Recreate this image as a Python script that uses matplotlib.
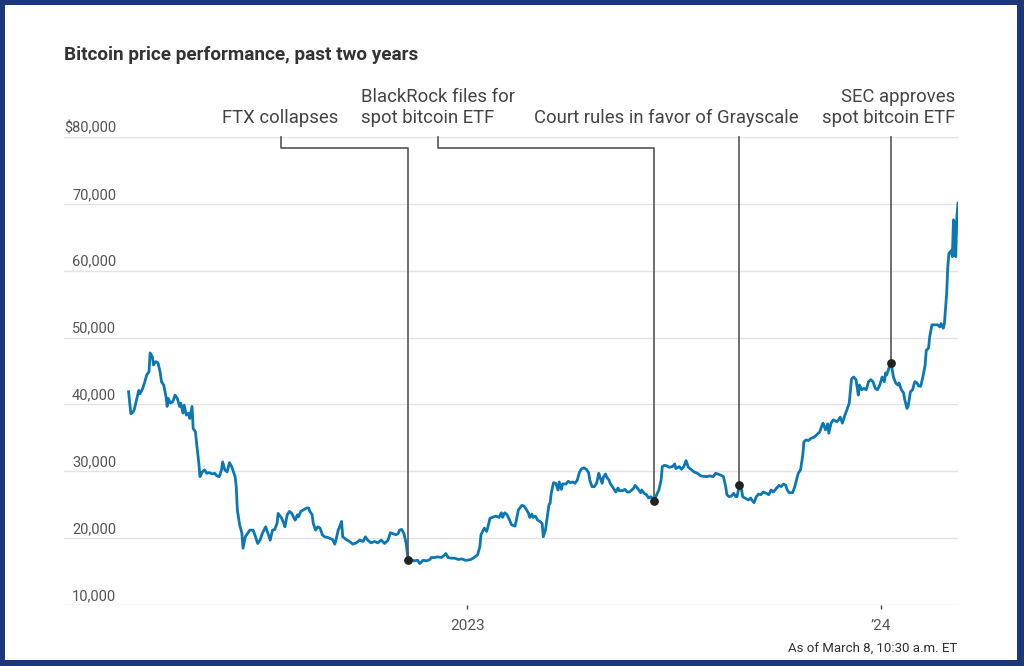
import numpy as np
import matplotlib
matplotlib.use("Agg")
import matplotlib.pyplot as plt
import matplotlib.dates as mdates
from matplotlib.patches import Rectangle

plt.rcParams['font.family'] = ['Roboto', 'DejaVu Sans']

# bitcoin closing price, days counted from the start date
start_date = np.datetime64('2022-03-07')
days = [1, 3, 5, 6, 8, 10, 11, 13, 15, 17, 19, 20, 22, 23, 25, 27, 29, 30, 32, 34,
        35, 36, 38, 40, 42, 44, 46, 47, 49, 50, 52, 54, 55, 57, 58, 60, 61, 63, 64, 66,
        68, 70, 72, 75, 77, 79, 81, 83, 84, 86, 88, 90, 92, 95, 96, 97, 99, 101, 102, 104,
        106, 108, 111, 113, 115, 117, 119, 122, 124, 126, 128, 130, 132, 133, 136, 138, 139, 141, 143, 145,
        147, 148, 150, 151, 153, 155, 158, 160, 161, 163, 164, 166, 168, 170, 172, 174, 177, 178, 181, 183,
        184, 186, 187, 189, 190, 193, 196, 199, 202, 205, 208, 210, 212, 215, 218, 221, 224, 227, 230, 232,
        234, 237, 239, 240, 242, 244, 246, 247, 248, 250, 253, 256, 258, 261, 264, 267, 268, 271, 274, 277,
        280, 281, 283, 286, 289, 292, 295, 298, 300, 303, 306, 309, 311, 312, 314, 315, 317, 318, 320, 322,
        325, 328, 330, 331, 333, 335, 337, 339, 342, 343, 345, 348, 350, 352, 354, 355, 357, 358, 360, 362,
        364, 366, 367, 369, 370, 372, 373, 374, 376, 378, 380, 381, 383, 384, 387, 389, 391, 393, 395, 397,
        399, 401, 403, 405, 407, 408, 410, 412, 414, 416, 417, 419, 420, 422, 423, 425, 426, 428, 431, 433,
        434, 437, 439, 441, 443, 445, 447, 448, 450, 453, 454, 456, 458, 460, 462, 464, 465, 467, 469, 471,
        472, 474, 476, 478, 481, 483, 484, 487, 489, 491, 493, 495, 498, 500, 503, 506, 511, 514, 517, 519,
        521, 524, 526, 528, 529, 531, 533, 535, 537, 538, 540, 542, 543, 545, 548, 550, 551, 553, 555, 557,
        559, 561, 564, 566, 568, 570, 573, 575, 577, 579, 581, 582, 584, 587, 589, 590, 592, 594, 596, 597,
        599, 601, 603, 606, 608, 611, 613, 614, 616, 618, 619, 621, 623, 626, 628, 629, 631, 633, 635, 637,
        639, 641, 643, 645, 646, 648, 650, 652, 654, 656, 658, 660, 662, 664, 666, 668, 669, 670, 673, 674,
        676, 678, 680, 681, 683, 685, 686, 688, 689, 691, 693, 694, 695, 697, 698, 700, 702, 704, 705, 707,
        708, 710, 712, 715, 717, 718, 720, 721, 723, 724, 725, 727, 728, 729, 730, 731, 732, 733]
price = [41900, 38600, 38900, 39200, 40700, 42100, 41600, 42200, 43200, 44400, 44900, 47700, 47100, 45900, 46400, 46200, 44700, 43400, 42900, 41200,
         39700, 40900, 40200, 40400, 41400, 40900, 39700, 40200, 38700, 39900, 38400, 38700, 37900, 39700, 36400, 35900, 34200, 31200, 29200, 29900,
         30200, 29700, 29800, 29600, 29700, 29300, 29200, 30200, 31400, 30200, 29900, 31300, 30700, 29200, 27700, 24200, 22000, 20700, 18500, 20200,
         20700, 21200, 21200, 20200, 19200, 19700, 20700, 21700, 20700, 19700, 21200, 21300, 22200, 23700, 23000, 22200, 21700, 23500, 24000, 23700,
         23000, 22700, 23500, 23200, 24000, 24200, 24500, 24500, 24000, 23500, 22200, 21200, 21700, 21500, 20500, 20200, 20100, 20000, 19800, 19100,
         19700, 21200, 21600, 22500, 20200, 19800, 19500, 19100, 19300, 19700, 19500, 20200, 19700, 19300, 19500, 19300, 19700, 19200, 19700, 20800,
         20700, 20500, 20700, 21200, 21300, 20700, 19200, 17700, 16700, 16800, 16600, 16700, 16200, 16700, 16600, 16800, 17100, 17100, 17200, 17100,
         17500, 17700, 17100, 17000, 17000, 16800, 16900, 16700, 16700, 16800, 17100, 17500, 18700, 20500, 21200, 21500, 21000, 21600, 23000, 23100,
         23300, 23100, 23800, 23100, 23800, 23500, 22800, 22000, 21800, 22500, 24200, 24900, 24800, 24300, 23700, 23100, 23600, 23100, 23300, 22700,
         22500, 22200, 20200, 21300, 22500, 25000, 25200, 26700, 28300, 28200, 27200, 28400, 27300, 28100, 28100, 28500, 28300, 28400, 28200, 28700,
         29900, 30400, 30500, 30300, 29800, 28700, 27700, 27700, 28200, 29700, 29100, 28200, 29100, 29600, 29100, 28700, 28200, 27700, 26900, 27500,
         27100, 27100, 27300, 26900, 26900, 27200, 27500, 27900, 27500, 26800, 27200, 26700, 26500, 26000, 26200, 25800, 25600, 26500, 27200, 28700,
         30700, 30900, 30800, 30600, 30700, 31100, 30400, 30700, 30300, 30700, 31600, 30600, 30200, 29900, 29700, 29300, 29200, 29300, 29200, 29700,
         29600, 29400, 29200, 27700, 26500, 26200, 26300, 26700, 26200, 26200, 27900, 27200, 26200, 26000, 25700, 26000, 25700, 25300, 26200, 26600,
         26500, 26900, 26700, 26500, 27200, 26900, 27500, 27900, 27700, 28100, 27900, 27300, 26800, 26800, 27700, 28400, 29700, 30200, 32400, 34400,
         34700, 34600, 34900, 35100, 35400, 35900, 36900, 37200, 36200, 37100, 35700, 37200, 37700, 37400, 37800, 38100, 37200, 38300, 39200, 40200,
         43800, 44100, 43700, 41400, 42900, 42200, 42400, 42200, 43400, 43700, 43400, 42400, 42200, 42900, 44100, 43400, 44700, 44400, 45900, 46200,
         44100, 43200, 42900, 43200, 42200, 41700, 40700, 39400, 39700, 41900, 42200, 42900, 43400, 43200, 42800, 42700, 44100, 45900, 48100, 48400,
         50100, 51900, 51900, 51900, 51600, 52100, 51400, 52100, 56600, 60600, 62600, 63000, 62100, 67600, 67100, 62100, 68100, 70100]

event_labels = ['FTX collapses', 'BlackRock files for\nspot bitcoin ETF',
                'Court rules in favor of Grayscale', 'SEC approves\nspot bitcoin ETF']
event_dates = ['2022-11-10', '2023-06-15', '2023-08-29', '2024-01-10']
event_prices = [16700, 25600, 27900, 46200]

y_ticks = [10000, 20000, 30000, 40000, 50000, 60000, 70000, 80000]
y_labels = ['10,000', '20,000', '30,000', '40,000', '50,000', '60,000', '70,000', '$80,000']
x_ticks = ['2023-01-01', '2024-01-01']
x_labels = ['2023', '\u201924']

dates = start_date + np.array(days).astype('timedelta64[D]')
ev_dates = np.array(event_dates, dtype='datetime64[D]')

fig = plt.figure(figsize=(10.24, 6.66), dpi=100, facecolor='#1b3679')
# white card inside the navy frame
fig.patches.append(Rectangle((5 / 1024, 6 / 666), 1012 / 1024, 655 / 666,
                             transform=fig.transFigure, facecolor='white', edgecolor='none', zorder=-10))

ax = fig.add_axes([64 / 1024, 61 / 666, 894 / 1024, 468 / 666])
ax.set_facecolor('none')
for s in ax.spines.values():
    s.set_visible(False)

ax.plot(dates, price, color='#0b78b3', lw=2.0, solid_joinstyle='round', zorder=3)

ax.set_ylim(10000, 80000)
ax.set_xlim(dates[0] - np.timedelta64(57, 'D'), dates[-1])
ax.set_yticks(y_ticks)
ax.yaxis.grid(True, color='#e3e3e3', lw=1)
ax.tick_params(axis='y', length=0, labelleft=False)
for v, lab in zip(y_ticks, y_labels):
    ax.annotate(lab, xy=(0.0582, v), xycoords=('axes fraction', 'data'),
                xytext=(0, 3.6), textcoords='offset points',
                ha='right', va='baseline', fontsize=10.5, color='#555555')

ax.set_xticks(np.array(x_ticks, dtype='datetime64[D]'))
ax.set_xticklabels(x_labels)
ax.tick_params(axis='x', length=3, width=1, color='#444444', pad=7,
               labelsize=11, labelcolor='#555555')

# event markers and connector lines
lc = '#555555'
tr = ax.get_xaxis_transform()
top_y, elbow_y, text_y = 1.0, 0.9765, 1.021
ax.scatter(ev_dates, event_prices, s=28, color='#222222', zorder=5, clip_on=False)
for i, (d, p) in enumerate(zip(ev_dates, event_prices)):
    dn = mdates.date2num(d)
    yfrac = (p - 10000) / 70000
    if i == 0:
        lx = ax.transAxes.inverted().transform(ax.transData.transform((dn, 0)))[0]
        ax.plot([0.2427, 0.2427, lx, lx], [top_y, elbow_y, elbow_y, yfrac],
                transform=ax.transAxes, color=lc, lw=1.2, clip_on=False, zorder=4)
        ax.text(0.2416, text_y, event_labels[i], transform=ax.transAxes,
                ha='center', va='bottom', fontsize=13.3, color='#444444')
    elif i == 1:
        lx = ax.transAxes.inverted().transform(ax.transData.transform((dn, 0)))[0]
        ax.plot([0.418, 0.418, lx, lx], [top_y, elbow_y, elbow_y, yfrac],
                transform=ax.transAxes, color=lc, lw=1.2, clip_on=False, zorder=4)
        ax.text(0.3319, text_y, event_labels[i], transform=ax.transAxes,
                ha='left', va='bottom', fontsize=13.3, color='#444444', linespacing=1.25)
    else:
        ax.plot([dn, dn], [top_y, yfrac], transform=tr, color=lc, lw=1.2,
                clip_on=False, zorder=4)
        rx = 0.8221 if i == 2 else 0.9966
        ax.text(rx, text_y, event_labels[i], transform=ax.transAxes,
                ha='right', va='bottom', fontsize=13.3, color='#444444', linespacing=1.25)

fig.text(64 / 1024, 1 - 60 / 666, 'Bitcoin price performance, past two years',
         ha='left', va='baseline', fontsize=13.6, fontweight='bold', color='#333333')
fig.text(957 / 1024, 1 - 648 / 666, 'As of March 8, 10:30 a.m. ET',
         ha='right', va='center', fontsize=9.5, color='#333333')

fig.savefig('out.png', dpi=100, facecolor=fig.get_facecolor())
